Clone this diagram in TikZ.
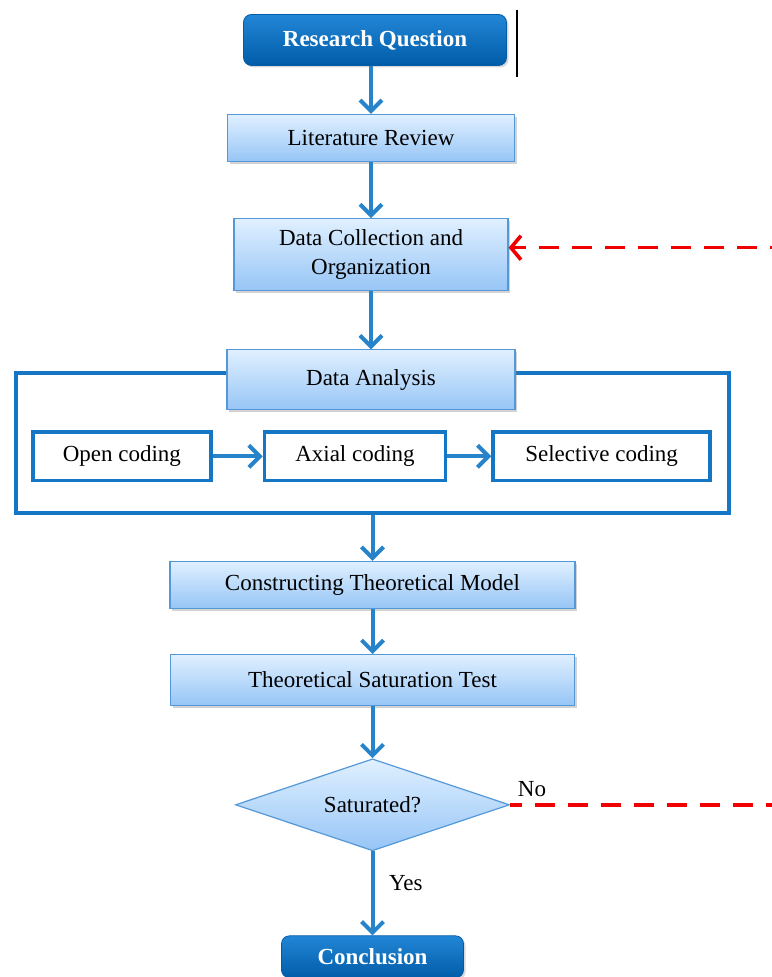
\documentclass[tikz,border=0pt]{standalone}
\usepackage{fontspec}
\setmainfont{Liberation Serif}
\usepackage{tikz}
\usetikzlibrary{positioning,arrows.meta,calc,fit,shapes.geometric,backgrounds,shadows}

\definecolor{dkTop}{RGB}{34,134,214}
\definecolor{dkBot}{RGB}{0,92,168}
\definecolor{ltTop}{RGB}{224,240,255}
\definecolor{ltBot}{RGB}{150,197,246}
\definecolor{ltEdge}{RGB}{84,152,216}
\definecolor{flowBlue}{RGB}{40,132,202}
\definecolor{frameBlue}{RGB}{22,118,198}
\definecolor{loopRed}{RGB}{240,0,0}

\begin{document}
\begin{tikzpicture}[
  x=0.5pt, y=-0.5pt,
  font=\fontsize{11.5}{14.5}\selectfont,
  node distance=24pt,
  terminal/.style={draw=dkBot, rectangle, rounded corners=4pt, top color=dkTop, bottom color=dkBot, text=white, font=\fontsize{11.5}{14.5}\selectfont\bfseries, drop shadow={shadow xshift=1pt, shadow yshift=-1pt, opacity=0.3}},
  proc/.style={draw=ltEdge, rectangle, line width=0.6pt, top color=ltTop, bottom color=ltBot, align=center, drop shadow={shadow xshift=1.2pt, shadow yshift=-1.2pt, opacity=0.35}},
  codebox/.style={draw=frameBlue, rectangle, line width=1.8pt, fill=white, minimum height=24pt, drop shadow={shadow xshift=0.8pt, shadow yshift=-0.8pt, opacity=0.25}},
  decide/.style={draw=ltEdge, diamond, aspect=3, line width=0.6pt, top color=ltTop, bottom color=ltBot, minimum width=137pt, minimum height=46pt, inner sep=0pt},
  areabox/.style={draw=frameBlue, rectangle, line width=1.8pt},
  arr/.style={-{Straight Barb[length=5.5pt, width=11pt]}, line width=2pt, draw=flowBlue},
  backarr/.style={draw=loopRed, line width=1.8pt, dash pattern=on 10pt off 6.5pt}
]
  \useasboundingbox (0,0) rectangle (771,977);

  % main column
  \node[terminal, minimum width=131.5pt, minimum height=25.5pt] (rq) at (375,40) {Research Question};
  \node[proc, minimum width=143.5pt, minimum height=23.5pt, below=24pt of rq, xshift=-2pt] (lit) {Literature Review};
  \node[proc, minimum width=137pt, minimum height=36pt, below=28pt of lit] (dc) {Data Collection and\\Organization};
  \node[proc, minimum width=144pt, minimum height=30pt, below=29pt of dc] (da) {Data Analysis};

  % coding steps
  \node[codebox, minimum width=90.5pt, below=10pt of da, xshift=-8pt] (axial) {Axial coding};
  \node[codebox, minimum width=89pt, left=25pt of axial] (open) {Open coding};
  \node[codebox, minimum width=108.5pt, right=22pt of axial] (sel) {Selective coding};

  \coordinate (fnw) at (16,373);
  \coordinate (fse) at (729,513);
  \begin{scope}[on background layer]
    \node[areabox, fit=(fnw)(fse), inner sep=0pt] (area) {};
  \end{scope}

  \node[proc, minimum width=202.5pt, minimum height=23.5pt, below=23pt of area] (ctm) {Constructing Theoretical Model};
  \node[proc, minimum width=202pt, minimum height=25.5pt, below=22.5pt of ctm] (tst) {Theoretical Saturation Test};
  \node[decide, below=26pt of tst] (sat) {Saturated?};
  \node[terminal, minimum width=91pt, minimum height=21pt, below=42pt of sat] (concl) {Conclusion};

  % flow
  \draw[arr] (rq.south -| lit) -- (lit);
  \draw[arr] (lit) -- (dc);
  \draw[arr] (dc) -- (da);
  \draw[arr] (open) -- (axial);
  \draw[arr] (axial) -- (sel);
  \draw[arr] (area) -- (ctm);
  \draw[arr] (ctm) -- (tst);
  \draw[arr] (tst) -- (sat);
  \draw[arr] (sat) -- node[midway, right=4pt, yshift=5pt, text=black] {Yes} (concl);

  % feedback to data collection
  \coordinate (rim) at (790,0);
  \coordinate (dcin) at ($(dc.east)+(0,-7)$);
  \draw[backarr, dash phase=4pt] (sat.east) -- node[pos=0, above right, inner sep=3pt, text=black] {No} (sat.east -| rim);
  \draw[backarr, -{Straight Barb[length=5pt, width=12pt]}] (dcin -| rim) -- (dcin);

  \draw[line width=0.7pt] (517,10) -- (517,77);
\end{tikzpicture}
\end{document}
